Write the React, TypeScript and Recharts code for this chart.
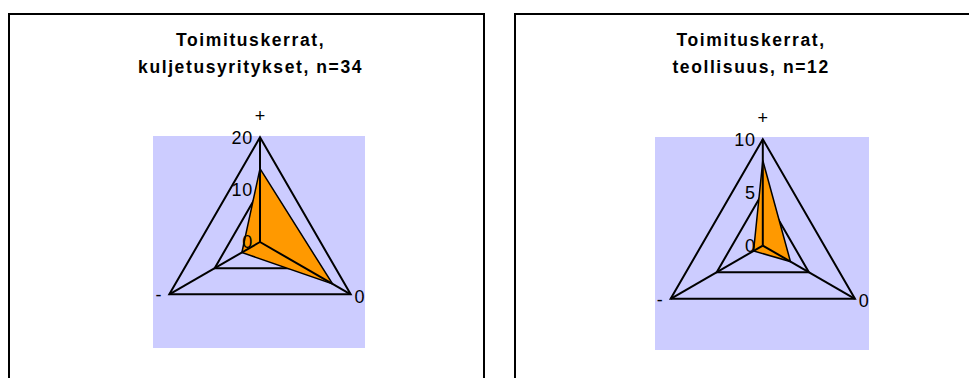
import { RadarChart, Radar, PolarGrid, PolarAngleAxis, PolarRadiusAxis } from "recharts";

const suunnat = ["+", "0", "-"];
const kuljetus = [14, 16, 4];
const teollisuus = [8, 3, 1];
const kuljetusTicks = [0, 10, 20];
const teollisuusTicks = [0, 5, 10];

const font = "'Liberation Sans', Arial, sans-serif";

const toRows = (vals: number[]) => suunnat.map((s, i) => ({ suunta: s, arvo: vals[i] }));

function AngleTick(props: any) {
  const { x, y, payload } = props;
  const v = payload.value;
  let anchor = "middle";
  let dx = 0;
  let dy = -7;
  if (v === "0") {
    anchor = "start";
    dx = -3;
    dy = 4.5;
  } else if (v === "-") {
    anchor = "end";
    dx = -1;
    dy = 3;
  }
  return (
    <text x={x + dx} y={y + dy} textAnchor={anchor} fontSize={18} fill="#000" fontFamily={font}>
      {v}
    </text>
  );
}

function RadiusTick(props: any) {
  const { x, y, payload } = props;
  return (
    <text x={x - 7} y={y} dy="0.36em" textAnchor="end" fontSize={18} letterSpacing={0.8} fill="#000" fontFamily={font}>
      {payload.value}
    </text>
  );
}

type PanelProps = {
  left: number;
  title: string[];
  titleCenter: number;
  vals: number[];
  ticks: number[];
  cx: number;
  cy: number;
  r: number;
  bg: { left: number; top: number; w: number; h: number };
};

function Panel({ left, title, titleCenter, vals, ticks, cx, cy, r, bg }: PanelProps) {
  const rows = toRows(vals);
  const domain = [ticks[0], ticks[ticks.length - 1]];
  return (
    <>
      <div
        style={{
          position: "absolute",
          left,
          top: 13,
          width: 477,
          height: 420,
          border: "2px solid #000",
          boxSizing: "border-box",
          background: "#fff",
        }}
      >
        <div
          style={{
            position: "absolute",
            left: bg.left,
            top: bg.top,
            width: bg.w,
            height: bg.h,
            background: "#CCCCFF",
          }}
        />
        <div style={{ position: "absolute", left: 0, top: 0 }}>
          <RadarChart width={473} height={400} data={rows} cx={cx} cy={cy} outerRadius={r} margin={{ top: 0, right: 0, bottom: 0, left: 0 }}>
            <PolarGrid gridType="polygon" radialLines={false} stroke="#000" strokeWidth={2} strokeOpacity={1} />
            <PolarAngleAxis dataKey="suunta" tick={<AngleTick />} tickLine={false} axisLine={false} />
            <PolarRadiusAxis
              angle={90}
              domain={domain as any}
              ticks={ticks as any}
              tickCount={ticks.length}
              tick={<RadiusTick />}
              axisLine={false}
              tickLine={false}
            />
            <Radar dataKey="arvo" fill="#FF9900" fillOpacity={1} stroke="#000" strokeWidth={1.5} dot={false} isAnimationActive={false} />
          </RadarChart>
        </div>
        {/* akselit oranssin päälle */}
        <div style={{ position: "absolute", left: 0, top: 0, pointerEvents: "none" }}>
          <RadarChart width={473} height={400} data={rows} cx={cx} cy={cy} outerRadius={r} margin={{ top: 0, right: 0, bottom: 0, left: 0 }}>
            <PolarGrid gridType="polygon" polarRadius={[0]} radialLines={true} stroke="#000" strokeWidth={2} strokeOpacity={1} />
            <PolarAngleAxis dataKey="suunta" tick={false} tickLine={false} axisLine={false} />
            <PolarRadiusAxis domain={domain as any} tick={false} axisLine={false} tickLine={false} />
          </RadarChart>
        </div>
      </div>
      <div
        style={{
          position: "absolute",
          left: titleCenter - 150,
          width: 300,
          top: 27,
          textAlign: "center",
          fontFamily: font,
          fontWeight: "bold",
          fontSize: 17.5,
          letterSpacing: 1.6,
          lineHeight: "27px",
          color: "#000",
          paddingLeft: 1.6,
        }}
      >
        {title.map((t) => (
          <div key={t}>{t}</div>
        ))}
      </div>
    </>
  );
}

export default function App() {
  return (
    <div style={{ position: "absolute", left: 0, top: 0, width: 969, height: 378, overflow: "hidden", background: "#fff" }}>
      <Panel
        left={8}
        title={["Toimituskerrat,", "kuljetusyritykset, n=34"]}
        titleCenter={249}
        vals={kuljetus}
        ticks={kuljetusTicks}
        cx={250}
        cy={227}
        r={104.7}
        bg={{ left: 143, top: 121, w: 212, h: 212 }}
      />
      <Panel
        left={514}
        title={["Toimituskerrat,", "teollisuus, n=12"]}
        titleCenter={749.5}
        vals={teollisuus}
        ticks={teollisuusTicks}
        cx={246.8}
        cy={230.6}
        r={106.4}
        bg={{ left: 139, top: 122, w: 214, h: 213 }}
      />
    </div>
  );
}
